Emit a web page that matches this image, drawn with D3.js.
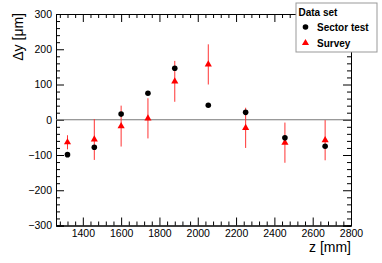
<!DOCTYPE html>
<meta charset="utf-8">
<style>
body { margin: 0; background: #fff; }
text { font-family: "Liberation Sans", Helvetica, Arial, sans-serif; }
</style>
<body>
<script src="https://d3js.org/d3.v7.min.js"></script>
<script>

var w = 382, h = 263;

// chart values
var zPos = [1320, 1460, 1600, 1740, 1880, 2055, 2250, 2455, 2665];
var sectorTest = [-99, -78, 16, 75, 146, 41, 21, -51, -75];
var survey = [-64, -56, -18, 4, 109, 157, -23, -65, -58];
var surveyErr = [20, 58, 58, 57, 58, 57, 57, 57, 57];
var xTicks = [1400, 1600, 1800, 2000, 2200, 2400, 2600, 2800];
var yTicks = [-300, -200, -100, 0, 100, 200, 300];
var legendNames = ["Sector test", "Survey"];

var margin = {top: 14, right: 31, bottom: 37.5, left: 56};
var width = w - margin.left - margin.right,
    height = h - margin.top - margin.bottom;

var svg = d3.select("body").append("svg")
    .attr("width", w)
    .attr("height", h);

var g = svg.append("g")
    .attr("transform", "translate(" + margin.left + "," + margin.top + ")");

var x = d3.scaleLinear().domain([1260, 2800]).range([0, width]);
var y = d3.scaleLinear().domain([-300, 300]).range([height, 0]);

// minor ticks
var xMinor = d3.range(1280, 2800.1, 40).filter(function(v) { return v % 200 != 0; });
var yMinor = d3.range(-300, 300.1, 20).filter(function(v) { return v % 100 != 0; });

function axisGroup(axis, tr) {
    var a = g.append("g").attr("transform", tr).call(axis);
    a.select(".domain").attr("stroke", "#000");
    a.selectAll("text").attr("font-size", "10.5px").attr("fill", "#000");
    return a;
}

// major + minor, bottom and left with labels
axisGroup(d3.axisBottom(x).tickValues(xTicks).tickSize(-8).tickPadding(4).tickFormat(d3.format("d")),
    "translate(0," + height + ")");
axisGroup(d3.axisBottom(x).tickValues(xMinor).tickSize(-4).tickFormat(""),
    "translate(0," + height + ")");
axisGroup(d3.axisLeft(y).tickValues(yTicks).tickSize(-8).tickPadding(4).tickFormat(d3.format("d")),
    "translate(0,0)");
axisGroup(d3.axisLeft(y).tickValues(yMinor).tickSize(-4).tickFormat(""), "translate(0,0)");
// top and right
axisGroup(d3.axisTop(x).tickValues(xTicks).tickSize(-8).tickFormat(""), "translate(0,0)");
axisGroup(d3.axisTop(x).tickValues(xMinor).tickSize(-4).tickFormat(""), "translate(0,0)");
axisGroup(d3.axisRight(y).tickValues(yTicks).tickSize(-8).tickFormat(""), "translate(" + width + ",0)");
axisGroup(d3.axisRight(y).tickValues(yMinor).tickSize(-4).tickFormat(""), "translate(" + width + ",0)");

// zero line
g.append("line")
    .attr("x1", 0).attr("x2", width)
    .attr("y1", y(0)).attr("y2", y(0))
    .attr("stroke", "#777").attr("stroke-width", 1);

// survey error bars
g.selectAll(".err")
    .data(zPos)
    .enter().append("line")
    .attr("class", "err")
    .attr("x1", function(d) { return x(d); })
    .attr("x2", function(d) { return x(d); })
    .attr("y1", function(d, i) { return y(survey[i] - surveyErr[i]); })
    .attr("y2", function(d, i) { return y(survey[i] + surveyErr[i]); })
    .attr("stroke", "#f33").attr("stroke-width", 1);

var tri = d3.symbol().type(d3.symbolTriangle).size(22);

g.selectAll(".surv")
    .data(zPos)
    .enter().append("path")
    .attr("class", "surv")
    .attr("d", tri)
    .attr("transform", function(d, i) { return "translate(" + x(d) + "," + y(survey[i]) + ")"; })
    .attr("fill", "#f00");

g.selectAll(".sect")
    .data(zPos)
    .enter().append("circle")
    .attr("class", "sect")
    .attr("cx", function(d) { return x(d); })
    .attr("cy", function(d, i) { return y(sectorTest[i]); })
    .attr("r", 2.8)
    .attr("fill", "#000");

// axis titles
svg.append("text")
    .attr("x", margin.left + width)
    .attr("y", 251.5)
    .attr("text-anchor", "end")
    .attr("font-size", "14px")
    .text("z [mm]");

svg.append("text")
    .attr("transform", "translate(22.5,13) rotate(-90)")
    .attr("text-anchor", "end")
    .attr("font-size", "14px")
    .text("Δy [μm]");

// legend
var lg = svg.append("g").attr("transform", "translate(296,3)");
lg.append("rect")
    .attr("width", 81).attr("height", 49)
    .attr("fill", "#fff").attr("stroke", "#999");
lg.append("text")
    .attr("x", 2.5).attr("y", 12.5)
    .attr("font-size", "10px").attr("font-weight", "bold")
    .text("Data set");
lg.selectAll(".lt")
    .data(legendNames)
    .enter().append("text")
    .attr("class", "lt")
    .attr("x", 21)
    .attr("y", function(d, i) { return 28 + i * 15.5; })
    .attr("font-size", "10px").attr("font-weight", "bold")
    .text(function(d) { return d; });
lg.append("circle").attr("cx", 9.5).attr("cy", 24).attr("r", 2.8).attr("fill", "#000");
lg.append("path").attr("d", tri).attr("transform", "translate(9.5,40)").attr("fill", "#f00");

</script>
</body>
